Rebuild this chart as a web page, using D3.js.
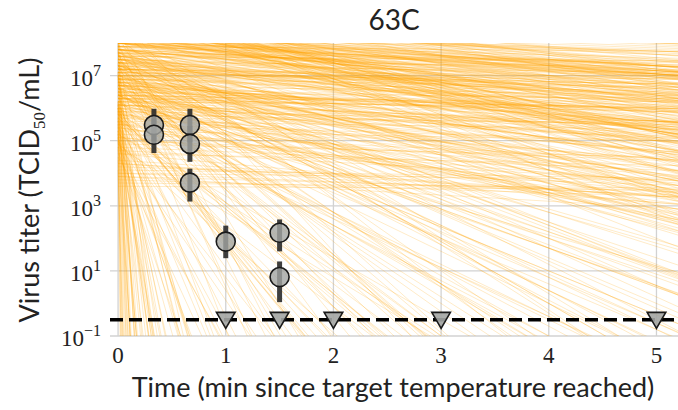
<!DOCTYPE html>
<html>
<head>
<meta charset="utf-8">
<script src="https://cdn.jsdelivr.net/npm/d3@7"></script>
<style>
  html, body { margin: 0; padding: 0; background: #fff; }
  svg { display: block; }
</style>
</head>
<body>
<svg id="chart" width="678" height="410"></svg>
<script>
// Posterior decay curves: log10 titer at t = 0 and decay rate (log10 units per minute)
const curveLogStart = [
  7.9, 6.4, 8.3, 5.6, 7.1, 6.9, 8.6, 5.2, 7.5, 6.1,
  8.0, 7.3, 5.9, 6.7, 8.4, 4.9, 7.7, 6.3, 7.0, 8.1,
  5.4, 6.8, 7.6, 8.7, 6.0, 7.2, 5.7, 8.2, 6.5, 7.4,
  4.6, 7.8, 6.2, 8.5, 5.8, 7.1, 6.6, 8.0, 5.3, 7.9,
  6.9, 7.5, 5.1, 8.3, 6.4, 7.0, 5.5, 8.6, 6.1, 7.3,
  7.7, 6.3, 8.8, 5.0, 7.2, 6.7, 8.1, 5.9, 7.6, 6.0,
  8.4, 5.6, 7.4, 6.8, 8.2, 4.8, 7.8, 6.5, 7.1, 8.5,
  5.7, 6.9, 7.3, 8.0, 6.2, 7.5, 5.4, 8.3, 6.6, 7.0,
  4.7, 7.9, 6.4, 8.6, 5.8, 7.2, 6.1, 8.1, 5.2, 7.7,
  6.8, 7.4, 5.5, 8.4, 6.3, 7.6, 5.9, 8.7, 6.0, 7.1,
  7.3, 6.6, 8.2, 5.3, 7.8, 6.9, 8.0, 5.6, 7.5, 6.2,
  8.5, 5.1, 7.0, 6.7, 8.3, 4.9, 7.7, 6.4, 7.2, 8.6,
  5.8, 7.1, 7.4, 8.1, 6.1, 7.6, 5.5, 8.4, 6.5, 6.9,
  4.5, 7.8, 6.3, 8.8, 5.7, 7.3, 6.0, 8.2, 5.4, 7.9,
  6.6, 7.5, 5.2, 8.5, 6.8, 7.0, 5.9, 8.0, 6.2, 7.4,
  7.6, 6.4, 8.3, 5.0, 7.2, 6.7, 8.6, 5.7, 7.8, 6.1,
  8.1, 5.5, 7.3, 6.9, 8.4, 4.8, 7.6, 6.3, 7.0, 8.7,
  5.6, 7.2, 7.7, 8.2, 6.0, 7.4, 5.3, 8.5, 6.6, 6.8,
  4.9, 7.9, 6.5, 8.0, 5.9, 7.1, 6.2, 8.3, 5.1, 7.5,
  6.7, 7.3, 5.4, 8.6, 6.4, 7.8, 5.8, 8.1, 6.1, 7.0,
  8.9, 7.2, 6.8, 9.3, 7.7, 8.1, 6.2, 8.6, 7.4, 9.0,
  6.6, 8.3, 7.9, 5.8, 8.7, 7.0, 9.4, 6.4, 8.0, 7.5,
  8.8, 6.9, 7.3, 9.1, 6.0, 8.4, 7.6, 8.2, 6.7, 9.2,
  7.1, 8.5, 6.3, 7.8, 9.5, 6.5, 8.1, 7.4, 8.9, 5.9,
  7.7, 9.0, 6.1, 8.6, 7.2, 8.3, 6.8, 9.3, 7.5, 8.0,
  6.4, 8.7, 7.9, 5.7, 9.1, 7.0, 8.4, 6.6, 7.3, 8.8,
  9.4, 6.2, 7.6, 8.2, 6.9, 9.0, 7.8, 5.6, 8.5, 7.1,
  8.0, 6.7, 9.2, 7.4, 8.6, 6.0, 7.9, 8.3, 6.5, 9.3,
  7.2, 8.9, 6.3, 7.7, 8.1, 5.5, 9.1, 7.0, 8.4, 6.8,
  8.7, 7.5, 6.1, 9.5, 7.3, 8.2, 6.6, 7.8, 9.0, 6.4,
  7.6, 8.5, 6.9, 8.0, 5.8, 9.2, 7.1, 8.8, 6.2, 7.4,
  9.3, 6.7, 8.3, 7.9, 6.0, 8.6, 7.2, 9.1, 6.5, 8.1,
  7.0, 8.9, 6.3, 7.5, 9.4, 5.9, 8.4, 7.7, 8.0, 6.8,
  8.2, 7.3, 9.0, 6.1, 7.8, 8.7, 6.6, 9.2, 7.4, 8.5,
  6.4, 7.9, 8.3, 5.7, 9.1, 7.1, 8.0, 6.9, 7.6, 8.8,
  9.5, 6.2, 7.2, 8.6, 6.7, 8.1, 7.7, 9.3, 6.0, 8.4,
  7.5, 8.9, 6.5, 7.0, 9.0, 6.3, 8.2, 7.8, 8.7, 5.6,
  7.3, 8.5, 6.8, 9.4, 7.6, 8.0, 6.1, 7.9, 9.1, 6.6,
  8.3, 7.1, 8.8, 6.4, 7.4, 9.2, 5.9, 8.6, 7.2, 8.1,
  6.9, 9.0, 7.7, 8.4, 6.2, 7.5, 9.3, 6.7, 8.0, 7.8,
  5.2, 4.1, 6.3, 3.8, 5.7, 4.6, 6.0, 4.9, 5.4, 3.6,
  6.5, 4.3, 5.0, 5.9, 4.0, 6.2, 4.7, 5.5, 3.9, 6.1,
  4.4, 5.3, 6.4, 4.8, 5.8, 3.7, 5.1, 6.6, 4.2, 5.6,
  7.2, 8.1, 6.8, 7.6, 8.4, 7.0, 7.9, 6.9, 8.2, 7.4,
  5.0, 4.5, 6.2, 5.7, 4.1, 6.0, 5.3, 4.8, 5.9, 4.4,
  8.5, 7.7, 8.0, 6.7, 7.3, 8.3, 7.1, 7.8, 6.6, 8.6,
  3.9, 5.4, 4.6, 6.3, 5.1, 4.0, 5.8, 4.3, 6.1, 5.5,
  7.5, 8.8, 6.5, 7.9, 8.2, 7.2, 6.9, 8.4, 7.6, 8.0,
  9.0, 8.6, 9.3, 8.9, 9.1, 8.7, 9.4, 8.8, 9.2, 9.5,
  6.4, 7.8, 5.2, 8.1, 6.7, 7.4, 5.6, 8.3, 6.0, 7.0
];
const curveRate = [
  0.12, 1.1, 0.35, 3.8, 0.7, 14, 0.05, 2.1, 0.9, 42,
  0.25, 5.5, 1.6, 0.4, 0.18, 2.9, 1.3, 0.08, 9.0, 0.6,
  3.3, 0.22, 1.9, 0.15, 25, 0.75, 4.6, 0.3, 1.2, 0.02,
  7.2, 0.5, 2.4, 0.1, 1.7, 85, 0.95, 0.28, 6.1, 1.05,
  0.45, 3.0, 18, 0.2, 1.4, 0.65, 2.6, 0.04, 11, 0.85,
  1.5, 0.33, 0.07, 4.2, 2.2, 0.55, 0.16, 33, 0.8, 1.8,
  0.13, 6.8, 0.42, 1.25, 0.09, 2.0, 0.6, 13, 3.6, 0.24,
  2.7, 0.38, 1.0, 0.19, 120, 0.72, 5.0, 0.11, 1.55, 0.48,
  9.8, 0.27, 1.35, 0.06, 3.4, 0.88, 22, 0.32, 1.9, 0.58,
  0.52, 2.3, 7.9, 0.14, 1.15, 0.4, 4.0, 0.03, 16, 1.45,
  0.68, 3.1, 0.21, 55, 0.98, 1.7, 0.26, 2.5, 0.5, 8.4,
  0.1, 12, 1.2, 0.62, 0.17, 4.8, 0.83, 1.6, 0.36, 0.08,
  2.8, 0.46, 0.93, 0.23, 6.5, 1.3, 28, 0.15, 2.1, 0.7,
  5.8, 0.29, 1.75, 0.05, 3.5, 0.57, 10.5, 0.2, 70, 0.78,
  1.1, 0.44, 20, 0.12, 2.35, 0.9, 3.9, 0.31, 1.4, 0.64,
  0.37, 1.85, 0.13, 8.8, 0.66, 2.7, 0.09, 15, 0.49, 4.4,
  0.2, 38, 0.8, 1.5, 0.11, 6.2, 0.54, 3.2, 1.05, 0.06,
  17, 0.74, 0.34, 0.18, 4.1, 1.25, 9.5, 0.27, 2.2, 1.6,
  2.5, 0.15, 1.2, 0.43, 0.95, 5.2, 1.9, 0.1, 150, 0.61,
  0.86, 2.9, 11.5, 0.07, 1.35, 0.3, 3.7, 0.22, 0.69, 24,
  0.18, 0.08, 0.28, 0.45, 0.1, 0.21, 0.03, 0.35, 0.08, 0.65,
  0.14, 0.3, 6.5, 0.06, 0.24, 0.05, 0.43, 0.16, 0.09, 0.33,
  0.48, 0.05, 0.19, 0.58, 0.11, 0.26, 0.04, 30, 0.22, 0.38,
  0.07, 0.29, 0.02, 0.15, 0.53, 0.1, 0.36, 0.18, 0.25, 2.4,
  0.05, 0.41, 0.13, 0.32, 0.06, 0.2, 12, 0.5, 0.12, 0.17,
  0.08, 0.44, 0.24, 0.03, 0.31, 0.1, 0.4, 0.07, 3.5, 0.27,
  0.6, 0.14, 0.03, 0.23, 0.09, 0.47, 0.17, 0.05, 0.34, 45,
  0.13, 0.06, 0.37, 0.2, 0.29, 1.6, 0.11, 0.23, 0.04, 0.42,
  0.15, 0.32, 0.08, 8.5, 0.21, 0.1, 0.49, 0.02, 0.27, 0.12,
  0.3, 0.09, 0.19, 0.55, 0.04, 0.25, 2.0, 0.16, 0.36, 0.06,
  0.43, 0.87, 0.14, 0.59, 0.27, 0.99, 0.09, 0.67, 18, 0.35,
  0.81, 0.22, 0.5, 0.03, 0.62, 0.4, 0.16, 1.25, 0.3, 0.56,
  0.19, 0.73, 4.2, 0.25, 0.9, 0.06, 0.45, 0.13, 0.38, 0.61,
  0.52, 0.28, 1.05, 0.1, 0.34, 0.77, 0.2, 95, 0.42, 0.65,
  0.08, 0.48, 0.58, 2.8, 0.86, 0.17, 0.31, 0.12, 0.44, 0.7,
  1.35, 0.23, 0.05, 0.55, 0.15, 0.36, 7.0, 0.92, 0.26, 0.47,
  0.39, 0.63, 0.11, 22, 0.8, 0.18, 0.51, 0.29, 0.69, 1.5,
  0.14, 0.57, 0.33, 1.0, 0.09, 0.41, 0.2, 60, 0.75, 0.27,
  0.6, 0.07, 0.84, 0.24, 3.0, 0.95, 0.16, 0.53, 0.12, 0.37,
  0.45, 1.1, 0.3, 0.66, 0.04, 14, 0.89, 0.21, 0.5, 0.32,
  0.15, 0.05, 0.4, 0.1, 0.25, 0.3, 0.55, 0.08, 0.45, 0.02,
  0.6, 0.2, 0.12, 0.35, 0.04, 0.7, 0.18, 0.5, 0.09, 0.28,
  0.22, 0.06, 0.48, 0.14, 0.62, 0.03, 0.33, 0.8, 0.11, 0.38,
  1.6, 2.1, 1.2, 1.9, 2.6, 1.4, 2.3, 1.1, 3.0, 1.75,
  35, 48, 65, 90, 110, 140, 180, 220, 260, 300,
  1.3, 1.05, 1.7, 0.95, 1.25, 2.0, 0.9, 1.45, 0.85, 2.2,
  0.19, 0.42, 0.07, 0.58, 0.27, 0.13, 0.36, 0.24, 0.65, 0.31,
  2.8, 3.6, 2.5, 4.5, 5.5, 3.2, 2.9, 6.5, 4.0, 7.5,
  0.6, 0.8, 0.95, 0.7, 1.1, 0.9, 1.2, 0.75, 1.0, 1.3,
  26, 40, 19, 75, 30, 55, 23, 130, 45, 95
];

// Measured titers (log10 TCID50/mL) with interval ends
const obsTime = [0.333, 0.333, 0.667, 0.667, 0.667, 1.0, 1.5, 1.5];
const obsLog  = [5.48, 5.18, 5.48, 4.90, 3.71, 1.90, 2.17, 0.81];
const obsLo   = [4.98, 4.62, 4.95, 4.35, 3.13, 1.39, 1.60, 0.04];
const obsHi   = [5.98, 5.68, 5.98, 5.45, 4.14, 2.39, 2.58, 1.29];

// Samples below the detection limit
const ndTime = [1, 1.5, 2, 3, 5];
const detectionLimit = Math.pow(10, -0.5);

const xTicks = [0, 1, 2, 3, 4, 5];
const yTickExp = [-1, 1, 3, 5, 7];

const svg = d3.select("#chart");
const plotLeft = 110, plotRight = 678, plotTop = 43, plotBottom = 336;

const x = d3.scaleLinear().domain([-0.075, 5.2]).range([plotLeft, plotRight]);
const y = d3.scaleLog().domain([1e-1, 1e8]).range([plotBottom, plotTop]);

svg.append("defs").append("clipPath").attr("id", "plotClip")
  .append("rect").attr("x", plotLeft).attr("y", plotTop)
  .attr("width", plotRight - plotLeft).attr("height", plotBottom - plotTop);

// grid
const grid = svg.append("g");
grid.selectAll(".hg").data(yTickExp).join("line")
  .attr("x1", plotLeft).attr("x2", plotRight)
  .attr("y1", d => y(Math.pow(10, d))).attr("y2", d => y(Math.pow(10, d)))
  .attr("stroke", "#d2d2d2").attr("stroke-width", 1.3);
grid.selectAll(".vg").data(xTicks).join("line")
  .attr("x1", d => x(d)).attr("x2", d => x(d))
  .attr("y1", plotTop).attr("y2", plotBottom)
  .attr("stroke", "#d2d2d2").attr("stroke-width", 1.3);

// decay curves (straight in log space)
const tMax = 5.2;
const curves = curveLogStart.map((s, i) => {
  const r = curveRate[i];
  const tEnd = Math.min(tMax, (s + 2) / r);
  return [[0, s], [tEnd, s - r * tEnd]];
});
const line = d3.line().x(d => x(d[0])).y(d => y(Math.pow(10, d[1])));
svg.append("g").attr("clip-path", "url(#plotClip)")
  .selectAll("path").data(curves).join("path")
  .attr("d", line)
  .attr("fill", "none")
  .attr("stroke", "#ffa500")
  .attr("stroke-opacity", 0.22)
  .attr("stroke-width", 1);

// detection limit
svg.append("line")
  .attr("x1", plotLeft).attr("x2", plotRight)
  .attr("y1", y(detectionLimit)).attr("y2", y(detectionLimit))
  .attr("stroke", "#000").attr("stroke-width", 3.5)
  .attr("stroke-dasharray", "13,6");

// error bars
svg.append("g").selectAll("line").data(obsTime).join("line")
  .attr("x1", d => x(d)).attr("x2", d => x(d))
  .attr("y1", (d, i) => y(Math.pow(10, obsLo[i])))
  .attr("y2", (d, i) => y(Math.pow(10, obsHi[i])))
  .attr("stroke", "#2a2a2a").attr("stroke-opacity", 0.9)
  .attr("stroke-width", 5);

// observed points
svg.append("g").selectAll("circle").data(obsTime).join("circle")
  .attr("cx", d => x(d))
  .attr("cy", (d, i) => y(Math.pow(10, obsLog[i])))
  .attr("r", 9.5)
  .attr("fill", "#a3a5a3").attr("fill-opacity", 0.8)
  .attr("stroke", "#1a1a1a").attr("stroke-width", 1.6);

// non-detect markers
const tri = d3.symbol().type(d3.symbolTriangle).size(150);
svg.append("g").selectAll("path").data(ndTime).join("path")
  .attr("d", tri)
  .attr("transform", d => `translate(${x(d)},${y(detectionLimit) - 2}) rotate(180)`)
  .attr("fill", "#a3a5a3").attr("fill-opacity", 0.9)
  .attr("stroke", "#1a1a1a").attr("stroke-width", 1.6);

// tick labels
const serif = "'Liberation Serif', 'DejaVu Serif', serif";
const sans = "Lato, 'Noto Sans', sans-serif";
svg.append("g").selectAll("text").data(xTicks).join("text")
  .attr("x", d => x(d)).attr("y", 363)
  .attr("text-anchor", "middle")
  .attr("font-family", serif).attr("font-size", 23).attr("fill", "#222")
  .text(d => d);

const yt = svg.append("g").selectAll("text").data(yTickExp).join("text")
  .attr("x", 101).attr("y", d => y(Math.pow(10, d)) + 10)
  .attr("text-anchor", "end")
  .attr("font-family", serif).attr("font-size", 23).attr("fill", "#222");
yt.append("tspan").text("10");
yt.append("tspan").attr("dy", -10).attr("font-size", 16)
  .text(d => d < 0 ? "\u2212" + Math.abs(d) : d);

// title and axis labels
svg.append("text").attr("x", 394).attr("y", 30)
  .attr("text-anchor", "middle")
  .attr("font-family", sans).attr("font-size", 28).attr("fill", "#222")
  .text("63C");

svg.append("text").attr("x", 393).attr("y", 397)
  .attr("text-anchor", "middle")
  .attr("font-family", sans).attr("font-size", 27).attr("fill", "#222")
  .text("Time (min since target temperature reached)");

const yl = svg.append("text")
  .attr("transform", "translate(39,190) rotate(-90)")
  .attr("text-anchor", "middle")
  .attr("font-family", sans).attr("font-size", 27).attr("fill", "#222");
yl.append("tspan").text("Virus titer (TCID");
yl.append("tspan").attr("dy", 6).attr("font-size", 17).attr("font-family", serif).text("50");
yl.append("tspan").attr("dy", -6).text("/mL)");
</script>
</body>
</html>
